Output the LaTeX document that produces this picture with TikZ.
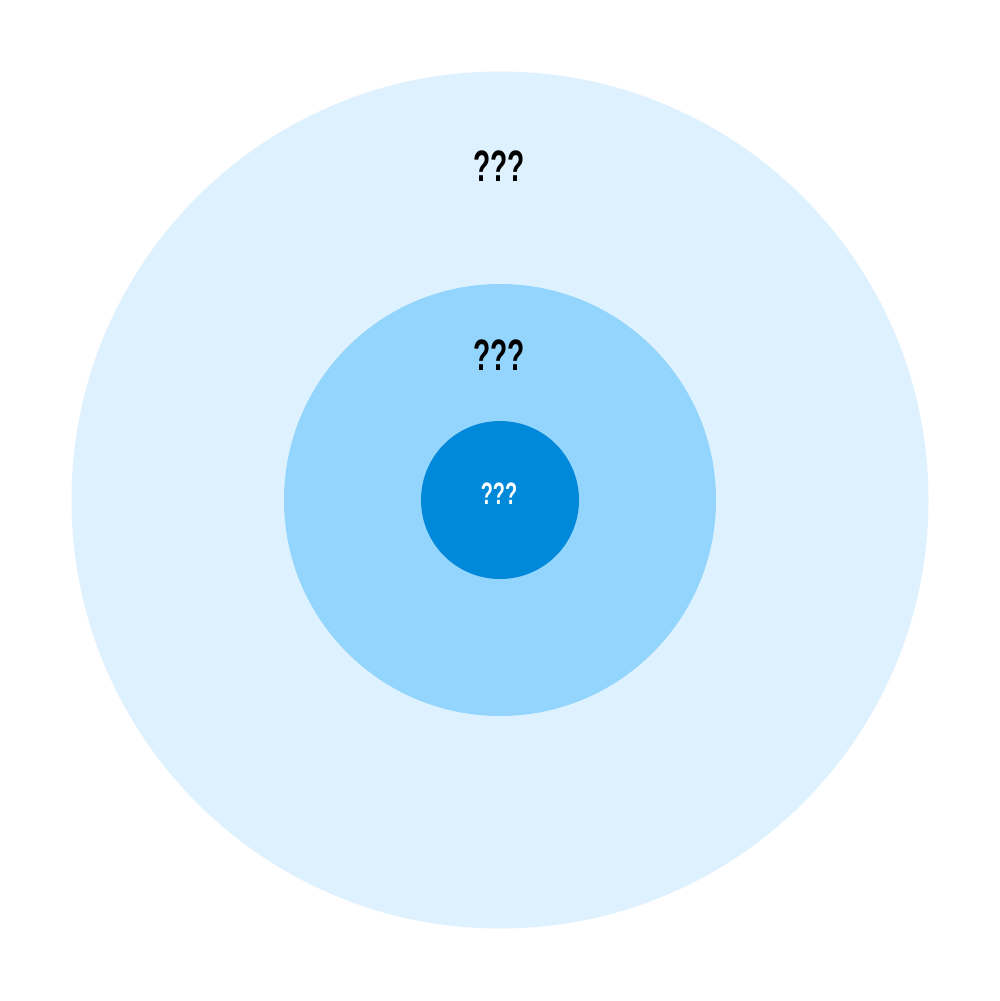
\documentclass[tikz,border=0pt]{standalone}
\usepackage{fontspec}
\setmainfont{Liberation Sans}
\newfontfamily\labelfont[FakeStretch=0.64]{Liberation Sans}
\definecolor{ringouter}{RGB}{221,242,254}
\definecolor{ringmiddle}{RGB}{147,213,253}
\definecolor{ringinner}{RGB}{0,137,217}
\begin{document}
\begin{tikzpicture}[x=1pt,y=1pt,yscale=-1,xscale=1]
\tikzset{ringlabel/.style={inner sep=0pt,anchor=center,font=\labelfont\bfseries}}
\useasboundingbox (0,0) rectangle (1000,1001);

%Shape: Circle [outer]
\fill [ringouter] (500,500) circle (428.5) ;
%Shape: Circle [middle]
\fill [ringmiddle] (500,500) circle (216) ;
%Shape: Circle [inner]
\fill [ringinner] (500,500) circle (79) ;

% Text Node
\node (outerlabel) [ringlabel,font=\labelfont\bfseries\fontsize{44}{48}\selectfont] at (499,166) {???};
% Text Node
\node (middlelabel) [ringlabel,font=\labelfont\bfseries\fontsize{44}{48}\selectfont] at (499,355) {???};
% Text Node
\node (innerlabel) [ringlabel,white,font=\labelfont\bfseries\fontsize{31}{35}\selectfont] at (499,494) {???};

\end{tikzpicture}
\end{document}
